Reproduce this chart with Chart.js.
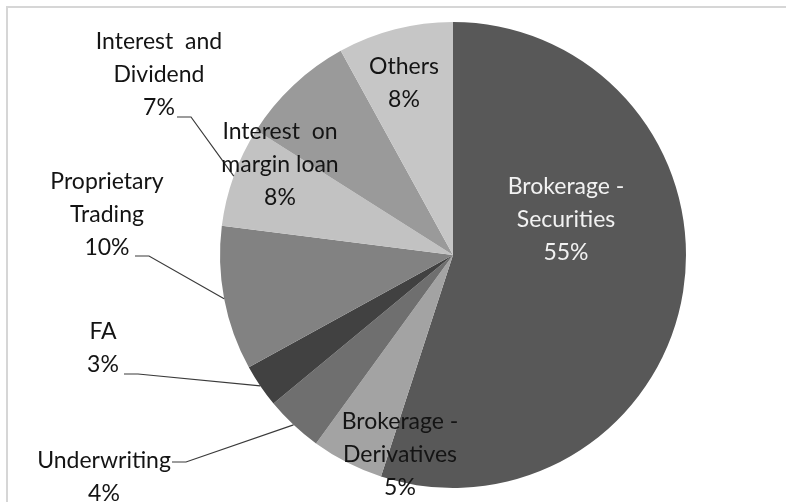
<!DOCTYPE html>
<html>
<head>
<meta charset="utf-8">
<script src="https://cdn.jsdelivr.net/npm/chart.js@4"></script>
<style>
  html, body { margin: 0; padding: 0; background: #fff; }
  #wrap { width: 786px; height: 502px; position: relative; }
</style>
</head>
<body>
<div id="wrap"><canvas id="pieChart"></canvas></div>
<script>
// Data pendapatan
const categories = ['Brokerage - Securities', 'Brokerage - Derivatives', 'Underwriting', 'FA',
                    'Proprietary Trading', 'Interest and Dividend', 'Interest on margin loan', 'Others'];
const shares = [55, 5, 4, 3, 10, 7, 8, 8];
const labelLines = [
    ['Brokerage -', 'Securities'],
    ['Brokerage -', 'Derivatives'],
    ['Underwriting'],
    ['FA'],
    ['Proprietary', 'Trading'],
    ['Interest  and', 'Dividend'],
    ['Interest  on', 'margin loan'],
    ['Others']
];
const sliceColors = ['#585858', '#a3a3a3', '#6f6f6f', '#414141', '#828282', '#c2c2c2', '#9a9a9a', '#c6c6c6'];

// Posisi label relatif ke pusat pie (px, untuk radius 233)
const labelPos = [
    { dx: 113, dy: -35, color: '#f2f2f2' },
    { dx: -53, dy: 200 },
    { dx: -349, dy: 222, leader: { dx: -281, dy: 207 } },
    { dx: -350, dy: 93, leader: { dx: -329, dy: 119 } },
    { dx: -346, dy: -40, leader: { dx: -318, dy: 1 } },
    { dx: -294, dy: -180, leader: { dx: -276, dy: -138 } },
    { dx: -173, dy: -90 },
    { dx: -49, dy: -172 }
];

const lineH = 33;

const labelPlugin = {
    id: 'pieLabels',
    beforeDraw(chart) {
        // bingkai area chart
        const ctx = chart.ctx;
        ctx.save();
        ctx.strokeStyle = '#d6d6d6';
        ctx.lineWidth = 2;
        ctx.beginPath();
        ctx.moveTo(7, 520);
        ctx.lineTo(7, 7);
        ctx.lineTo(800, 7);
        ctx.stroke();
        ctx.restore();
    },
    afterDatasetsDraw(chart) {
        const ctx = chart.ctx;
        const meta = chart.getDatasetMeta(0);
        const total = shares.reduce((s, v) => s + v, 0);
        ctx.save();
        ctx.font = '23px Lato';
        ctx.textAlign = 'center';
        ctx.textBaseline = 'middle';

        meta.data.forEach((arc, i) => {
            const cx = arc.x, cy = arc.y, r = arc.outerRadius;
            const k = r / 233;
            const pos = labelPos[i];
            const lines = labelLines[i].concat([Math.round(shares[i] / total * 100) + '%']);
            const x = cx + pos.dx * k;
            const y0 = cy + pos.dy * k - (lines.length - 1) * lineH / 2;

            // Garis penunjuk ke tengah busur
            if (pos.leader) {
                const mid = (arc.startAngle + arc.endAngle) / 2;
                const ex = cx + Math.cos(mid) * r;
                const ey = cy + Math.sin(mid) * r;
                const sx = cx + pos.leader.dx * k;
                const sy = cy + pos.leader.dy * k;
                ctx.strokeStyle = '#3a3a3a';
                ctx.lineWidth = 1.2;
                ctx.beginPath();
                ctx.moveTo(sx, sy);
                ctx.lineTo(sx + 14, sy);
                ctx.lineTo(ex, ey);
                ctx.stroke();
            }

            ctx.fillStyle = pos.color || '#141414';
            lines.forEach((t, j) => ctx.fillText(t, x, y0 + j * lineH));
        });
        ctx.restore();
    }
};

new Chart(document.getElementById('pieChart'), {
    type: 'pie',
    data: {
        labels: categories,
        datasets: [{
            data: shares,
            backgroundColor: sliceColors,
            borderWidth: 0
        }]
    },
    options: {
        responsive: true,
        maintainAspectRatio: false,
        animation: false,
        layout: { padding: { left: 220, right: 100, top: 22, bottom: 14 } },
        plugins: {
            legend: { display: false },
            tooltip: { enabled: false }
        }
    },
    plugins: [labelPlugin]
});
</script>
</body>
</html>
